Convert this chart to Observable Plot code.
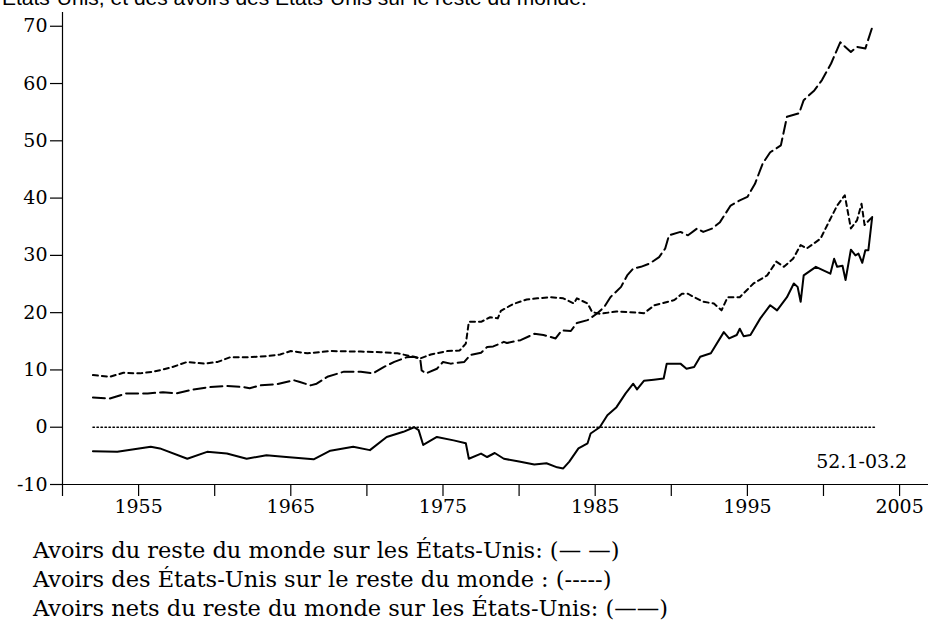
<!DOCTYPE html>
<html>
<head>
<meta charset="utf-8">
<script src="https://cdn.jsdelivr.net/npm/d3@7"></script>
<script src="https://cdn.jsdelivr.net/npm/@observablehq/plot@0.6"></script>
<style>
  html, body { margin: 0; padding: 0; background: #fff; }
  #wrap { position: relative; width: 928px; height: 625px; overflow: hidden; background: #fff; }
  #title { position: absolute; z-index: 2; left: 2px; top: -12px; font: 21px Arial, "Liberation Sans", sans-serif; line-height: 20px; color: #000; white-space: nowrap; }
  #chart { position: absolute; z-index: 1; left: 0; top: 0; }
  #legend { position: absolute; left: 33px; top: 536px; font: 22.5px "DejaVu Serif", serif; line-height: 29px; color: #000; white-space: nowrap; }
</style>
</head>
<body>
<div id="wrap">
  <div id="chart"></div>
  <div id="title">États-Unis, et des avoirs des États-Unis sur le reste du monde.</div>
  <div id="legend"></div>
</div>
<script>
// Avoirs du reste du monde sur les États-Unis (long dashes)
const foreignYears = [1952.0,1953.1,1954.2,1955.6,1956.6,1957.5,1958.6,1959.7,1960.8,1961.9,1962.3,1963.0,1964.1,1965.2,1965.6,1966.3,1966.7,1967.4,1968.5,1969.6,1970.4,1971.1,1971.8,1972.6,1973.1,1973.5,1973.6,1973.9,1974.6,1975.0,1975.5,1976.4,1976.8,1977.5,1977.9,1978.3,1979.0,1979.2,1980.1,1981.0,1981.6,1982.4,1982.8,1983.4,1983.8,1984.5,1985.1,1985.6,1986.0,1986.7,1987.1,1987.5,1988.0,1988.6,1989.2,1989.6,1989.85,1990.6,1991.1,1991.7,1992.1,1992.7,1993.2,1993.9,1994.5,1995.0,1995.5,1996.0,1996.5,1997.2,1997.6,1998.0,1998.4,1998.7,1999.4,1999.9,2000.5,2001.1,2001.8,2002.2,2002.75,2003.2];
const foreignValues = [5.2,5.0,5.9,5.9,6.1,5.9,6.6,7.0,7.2,7.0,6.8,7.3,7.5,8.2,7.9,7.3,7.6,8.8,9.7,9.7,9.4,10.5,11.4,12.2,12.3,12.0,9.9,9.4,10.2,11.4,11.1,11.4,12.6,13.0,14.0,14.1,14.9,14.7,15.2,16.3,16.1,15.5,16.9,16.8,18.2,18.7,19.8,21.0,22.7,24.5,26.5,27.7,28.0,28.6,29.7,31.2,33.5,34.1,33.5,34.7,34.1,34.7,35.8,38.7,39.6,40.2,42.5,46.0,48.0,49.2,54.2,54.5,54.8,57.1,58.8,60.6,63.5,67.2,65.5,66.4,66.1,69.8];

// Avoirs des États-Unis sur le reste du monde (short dashes)
const usYears = [1952.0,1953.1,1954.0,1955.1,1956.0,1957.1,1958.2,1959.3,1960.2,1961.0,1962.1,1963.4,1964.3,1965.0,1966.1,1967.6,1969.6,1970.9,1972.0,1972.9,1973.5,1974.2,1975.3,1976.1,1976.5,1976.7,1977.5,1978.1,1978.6,1978.8,1979.6,1980.5,1981.2,1982.1,1982.9,1983.6,1983.8,1984.5,1984.8,1985.3,1986.4,1987.8,1988.2,1988.9,1990.2,1990.7,1991.1,1991.5,1992.1,1992.8,1993.3,1993.7,1994.5,1995.4,1996.3,1996.9,1997.4,1998.0,1998.5,1998.9,1999.8,2000.4,2000.9,2001.4,2001.8,2002.2,2002.5,2002.7,2003.2];
const usValues = [9.1,8.8,9.5,9.4,9.7,10.4,11.4,11.1,11.4,12.2,12.2,12.4,12.7,13.3,12.9,13.3,13.2,13.1,12.9,12.4,12.0,12.7,13.3,13.4,14.6,18.4,18.4,19.2,19.0,20.3,21.5,22.3,22.5,22.7,22.5,21.6,22.5,21.6,20.1,19.8,20.2,20.0,19.9,21.3,22.2,23.3,23.3,22.7,21.9,21.6,20.4,22.7,22.7,25.1,26.5,28.9,28.0,29.4,31.8,31.2,32.9,36.1,38.7,40.5,34.7,36.1,39.0,35.3,36.7];

// Avoirs nets du reste du monde sur les États-Unis (solid)
const netYears = [1952.0,1953.6,1955.8,1956.4,1958.2,1959.5,1960.8,1962.1,1963.4,1964.7,1966.5,1967.6,1969.1,1970.2,1971.3,1972.4,1973.1,1973.4,1973.7,1974.6,1975.7,1976.5,1976.7,1977.5,1977.9,1978.4,1979.0,1980.0,1981.0,1981.8,1982.5,1982.9,1983.3,1983.9,1984.5,1984.7,1985.3,1985.8,1986.4,1987.0,1987.5,1987.75,1988.2,1988.85,1989.5,1989.7,1990.6,1991.0,1991.5,1991.9,1992.6,1993.45,1993.8,1994.3,1994.5,1994.75,1995.2,1995.85,1996.5,1996.95,1997.6,1998.05,1998.3,1998.5,1998.7,1999.5,2000.45,2000.7,2000.9,2001.25,2001.45,2001.8,2002.1,2002.3,2002.55,2002.75,2002.95,2003.2];
const netValues = [-4.2,-4.3,-3.4,-3.7,-5.5,-4.3,-4.6,-5.5,-4.9,-5.2,-5.6,-4.1,-3.4,-4.0,-1.7,-0.8,0.0,-0.5,-3.1,-1.7,-2.3,-2.8,-5.5,-4.6,-5.2,-4.5,-5.5,-6.0,-6.5,-6.3,-7.0,-7.2,-6.0,-3.7,-2.8,-1.1,0.0,2.1,3.5,5.9,7.6,6.6,8.1,8.3,8.5,11.1,11.1,10.2,10.5,12.3,12.9,16.6,15.5,16.1,17.2,15.9,16.1,19.0,21.3,20.4,22.7,25.1,24.5,21.9,26.5,28.0,26.8,29.4,28.0,28.2,25.7,31.0,30.0,30.3,28.7,30.9,30.9,36.7];

// zero reference line span and period note
const zeroYears = [1952.0, 2003.4];
const zeroValues = [0, 0];
const noteText = ["52.1-03.2"];
const noteYear = [2005.5];
const noteValue = [-6.1];

// axis ticks
const xTicks = [1950,1955,1960,1965,1970,1975,1980,1985,1990,1995,2000,2005];
const xLabels = [1955,1965,1975,1985,1995,2005];
const yTicks = [-10,0,10,20,30,40,50,60,70];

const legendLines = [
  "Avoirs du reste du monde sur les États-Unis: (— —)",
  "Avoirs des États-Unis sur le reste du monde : (-----)",
  "Avoirs nets du reste du monde sur les États-Unis: (——)"
];

const font = '"DejaVu Serif", serif';

const chart = Plot.plot({
  width: 928,
  height: 520,
  marginLeft: 62,
  marginRight: 0,
  marginTop: 12,
  marginBottom: 36,
  style: { background: "transparent", color: "#000", fontFamily: font, fontSize: "19px", overflow: "visible" },
  x: { domain: [1950, 2006.9] },
  y: { domain: [-10, 72.4] },
  marks: [
    Plot.axisX({ ticks: xTicks, tickSize: 12, tickPadding: 3, tickFormat: d => xLabels.includes(d) ? String(d) : "", fontSize: 19, label: null, stroke: "#000", strokeWidth: 1.2 }),
    Plot.axisY({ ticks: yTicks, tickSize: 12, tickPadding: 3, tickFormat: d => String(d), fontSize: 19, label: null, stroke: "#000", strokeWidth: 1.2 }),
    Plot.ruleY([-10], { stroke: "#000", strokeWidth: 1.2 }),
    Plot.ruleX([1950], { stroke: "#000", strokeWidth: 1.2 }),
    Plot.line(zeroValues, { x: zeroYears, y: zeroValues, stroke: "#000", strokeWidth: 1.4, strokeDasharray: "1.5,2.5" }),
    Plot.line(foreignValues, { x: foreignYears, y: foreignValues, stroke: "#000", strokeWidth: 2, strokeDasharray: "12,5", curve: "linear" }),
    Plot.line(usValues, { x: usYears, y: usValues, stroke: "#000", strokeWidth: 2, strokeDasharray: "5,4", curve: "linear" }),
    Plot.line(netValues, { x: netYears, y: netValues, stroke: "#000", strokeWidth: 2, curve: "linear" }),
    Plot.text(noteText, { x: noteYear, y: noteValue, text: d => d, textAnchor: "end", fontSize: 19, fill: "#000" })
  ]
});
document.getElementById("chart").appendChild(chart);

const legend = document.getElementById("legend");
legendLines.forEach(t => { const d = document.createElement("div"); d.textContent = t; legend.appendChild(d); });
</script>
</body>
</html>
